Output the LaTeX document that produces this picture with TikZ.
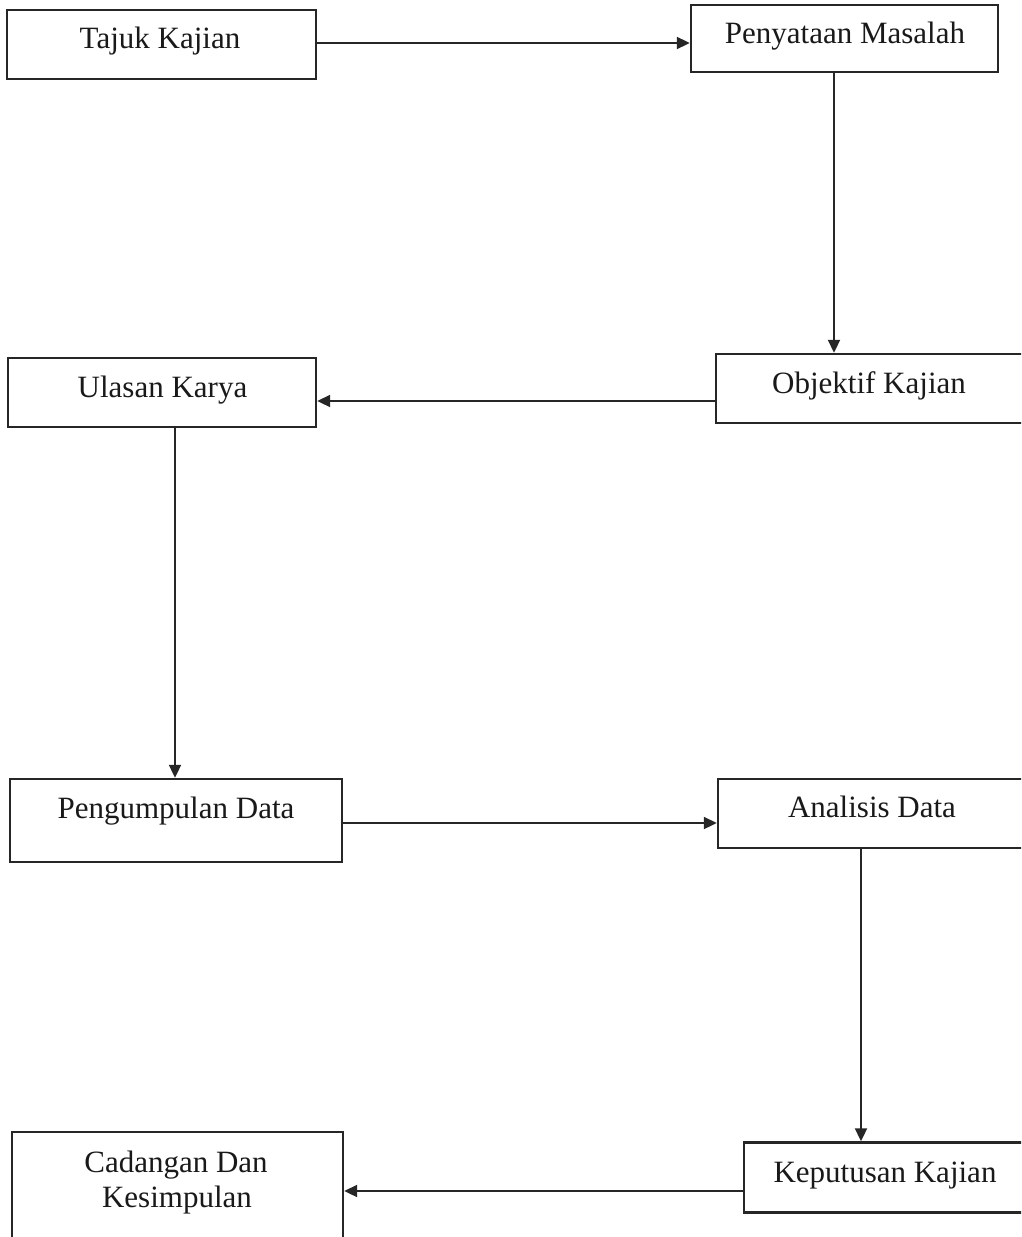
\documentclass[tikz,border=0pt]{standalone}
\usepackage{fontspec}
\setmainfont{Liberation Serif}
\usetikzlibrary{arrows.meta}
\begin{document}
\begin{tikzpicture}[x=1pt,y=-1pt,
  boxstyle/.style={draw=black!85, line width=2.4pt},
  lbl/.style={anchor=base, inner sep=0pt, font=\fontsize{31}{35}\selectfont, text=black!90},
  conn/.style={draw=black!85, line width=2pt, -{Triangle[length=13pt,width=12pt]}}]
\useasboundingbox (0,0) rectangle (1021,1237);
\begin{scope}
\clip (0,0) rectangle (1021,1237);
% boxes
\node[boxstyle, inner sep=0pt, minimum width=309pt, minimum height=69pt] (A) at (161.5,44.5) {};
\node[boxstyle, inner sep=0pt, minimum width=307pt, minimum height=67pt] (B) at (844.5,38.5) {};
\node[boxstyle, inner sep=0pt, minimum width=309pt, minimum height=69pt] (C) at (870.5,388.5) {};
\node[boxstyle, inner sep=0pt, minimum width=308pt, minimum height=69pt] (D) at (162,392.5) {};
\node[boxstyle, inner sep=0pt, minimum width=332pt, minimum height=83pt] (E) at (176,820.5) {};
\node[boxstyle, inner sep=0pt, minimum width=308pt, minimum height=69pt] (F) at (872,813.5) {};
\node[boxstyle, inner sep=0pt, minimum width=282pt, minimum height=70pt] (G) at (885,1177.5) {};
\node[boxstyle, inner sep=0pt, minimum width=331pt, minimum height=120pt] (H) at (177.5,1192) {};
% labels
\node[lbl] (At) at (160,48) {Tajuk Kajian};
\node[lbl] (Bt) at (845,43) {Penyataan Masalah};
\node[lbl] (Ct) at (869,393) {Objektif Kajian};
\node[lbl] (Dt) at (162.5,397) {Ulasan Karya};
\node[lbl] (Et) at (176,818) {Pengumpulan Data};
\node[lbl] (Ft) at (872,817) {Analisis Data};
\node[lbl] (Gt) at (885,1182) {Keputusan Kajian};
\node[lbl] (Ht1) at (176,1172) {Cadangan Dan};
\node[lbl] (Ht2) at (177,1207) {Kesimpulan};
% connectors
\draw[conn] (A.east |- 0,43) -- (B.west |- 0,43);
\draw[conn] (B.south -| 834,0) -- (C.north -| 834,0);
\draw[conn] (C.west |- 0,401) -- (D.east |- 0,401);
\draw[conn] (D.south -| 175,0) -- (E.north -| 175,0);
\draw[conn] (E.east |- 0,823) -- (F.west |- 0,823);
\draw[conn] (F.south -| 861,0) -- (G.north -| 861,0);
\draw[conn] (G.west |- 0,1191) -- (H.east |- 0,1191);
\end{scope}
\end{tikzpicture}
\end{document}
